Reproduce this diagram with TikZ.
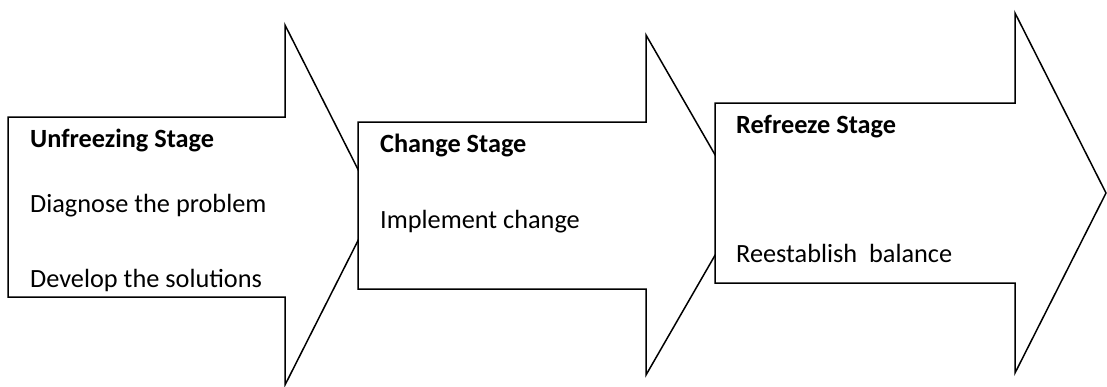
\documentclass[tikz,border=0pt]{standalone}
\usepackage{fontspec}
\setmainfont{Carlito}
\begin{document}
\begin{tikzpicture}[x=1pt,y=-1pt,
  bigarrow/.style={draw=black,fill=white,line width=1.5pt,line join=miter},
  lbl/.style={anchor=base west,inner sep=0pt,font=\fontsize{26.3}{30}\selectfont},
  ttl/.style={lbl,font=\fontsize{26.3}{30}\selectfont\bfseries}]
\useasboundingbox (0,0) rectangle (1107,386);
% arrow 1
\draw[bigarrow] (8,117) -- (285,117) -- (285,25) -- (376,205) -- (285,385) -- (285,297) -- (8,297) -- cycle;
% arrow 2
\draw[bigarrow] (358,122) -- (646,122) -- (646,35) -- (744,205) -- (646,375) -- (646,289) -- (358,289) -- cycle;
% arrow 3
\draw[bigarrow] (715,103) -- (1015,103) -- (1015,13) -- (1106,193) -- (1015,373) -- (1015,283) -- (715,283) -- cycle;
% texts
\node[ttl] (t1) at (30,147) {Unfreezing Stage};
\node[lbl] (a1) at (30,212) {Diagnose the problem};
\node[lbl] (b1) at (30,287) {Develop the solutions};
\node[ttl] (t2) at (380,152) {Change Stage};
\node[lbl] (a2) at (380,228) {Implement change};
\node[ttl] (t3) at (736,133) {Refreeze Stage};
\node[lbl] (a3) at (736,262) {Reestablish\ \ balance};
\end{tikzpicture}
\end{document}
